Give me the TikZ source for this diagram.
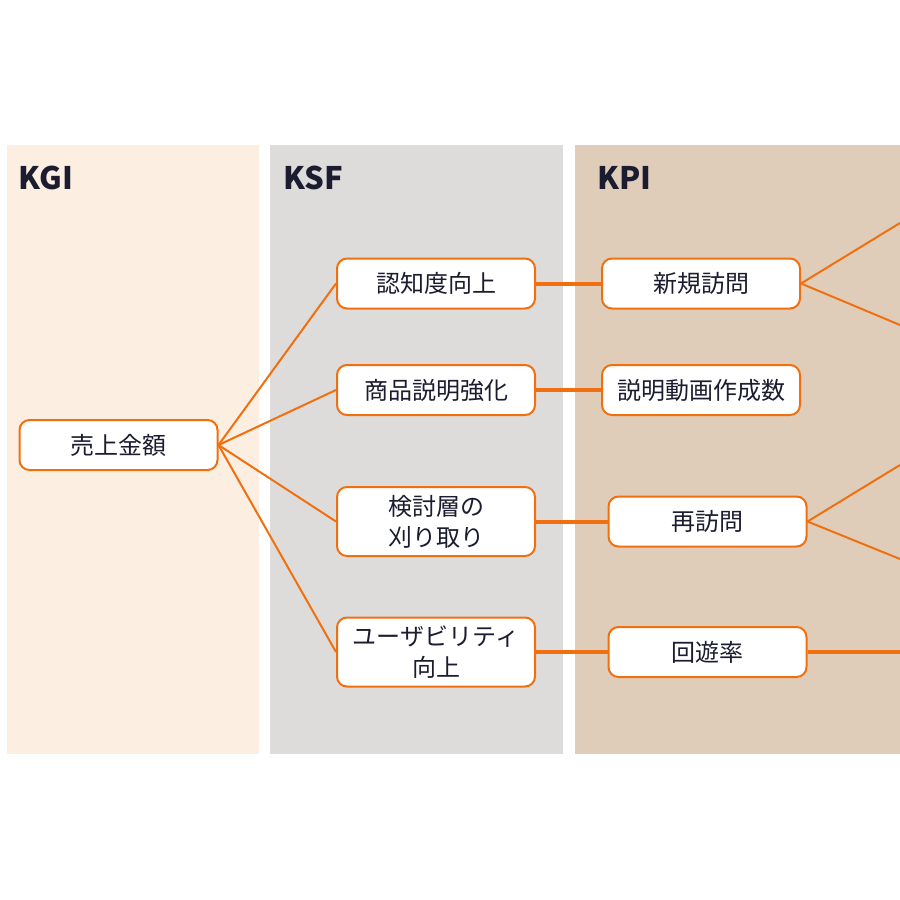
\documentclass[tikz,border=0pt]{standalone}
\usepackage{fontspec}
\newfontfamily\jpfont{Noto Sans CJK JP}
\definecolor{kgibg}{HTML}{FDEEE2}
\definecolor{ksfbg}{HTML}{DEDCDB}
\definecolor{kpibg}{HTML}{E0CDB9}
\definecolor{linie}{HTML}{F07010}
\definecolor{schrift}{HTML}{1C1C30}
\begin{document}
\begin{tikzpicture}[
        x=0.5pt, y=-0.5pt,
        box/.style={rectangle, rounded corners=5pt, draw=linie, line width=1pt, fill=white,
                    minimum width=99pt, minimum height=25pt, align=center, inner sep=2pt,
                    font=\jpfont\fontsize{12}{15.5}\selectfont, text=schrift},
        boxzwei/.style={box, minimum height=34.5pt},
        titel/.style={anchor=base west, inner sep=0pt, font=\jpfont\bfseries\fontsize{15.5}{18}\selectfont, text=schrift},
        duenn/.style={draw=linie, line width=1pt},
        dick/.style={draw=linie, line width=2pt}
    ]
        \useasboundingbox (0,0) rectangle (900,900);

        % Spalten
        \fill[kgibg] (7,145) rectangle (259,754);
        \fill[ksfbg] (270,145) rectangle (563,754);
        \fill[kpibg] (575,145) rectangle (900,754);

        \node[titel] (kgi) at (18,189) {KGI};
        \node[titel] (ksf) at (283,189) {KSF};
        \node[titel] (kpi) at (597,189) {KPI};

        % KGI
        \node[box] (umsatz) at (118.5,445) {売上金額};

        % KSF
        \node[box] (bekannt) at (436,283.5) {認知度向上};
        \node[box] (produkt) at (436,390) {商品説明強化};
        \node[boxzwei] (ernte) at (436,521.5) {検討層の\\刈り取り};
        \node[boxzwei] (nutzbar) at (436,652) {ユーザビリティ\\向上};

        % KPI
        \node[box] (neu) at (701,283.5) {新規訪問};
        \node[box] (video) at (701,390) {説明動画作成数};
        \node[box] (wieder) at (707.5,521.5) {再訪問};
        \node[box] (rundgang) at (707.5,652) {回遊率};

        % Ausgaenge rechts
        \coordinate (neuA) at (900,223);
        \coordinate (neuB) at (900,325);
        \coordinate (wiederA) at (900,465);
        \coordinate (wiederB) at (900,559);
        \coordinate (rundA) at (900,652);

        % Verbindungen
        \foreach \ziel in {bekannt,produkt,ernte,nutzbar}
            \draw[duenn] (umsatz.east) -- (\ziel.west);

        \draw[dick] (bekannt.east) -- (neu.west);
        \draw[dick] (produkt.east) -- (video.west);
        \draw[dick] (ernte.east) -- (wieder.west);
        \draw[dick] (nutzbar.east) -- (rundgang.west);

        \draw[duenn] (neu.east) -- (neuA);
        \draw[duenn] (neu.east) -- (neuB);
        \draw[duenn] (wieder.east) -- (wiederA);
        \draw[duenn] (wieder.east) -- (wiederB);
        \draw[dick] (rundgang.east) -- (rundA);

    \end{tikzpicture}
\end{document}
